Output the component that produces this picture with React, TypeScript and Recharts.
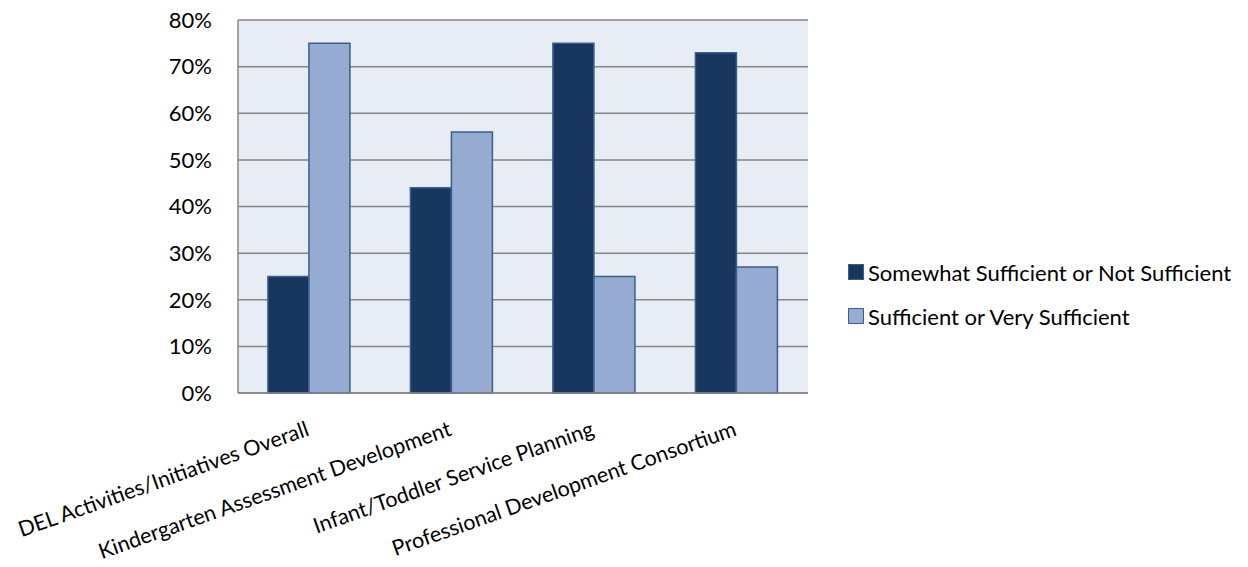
import { BarChart, Bar, XAxis, YAxis, CartesianGrid } from 'recharts';

const categories = [
  'DEL Activities/Initiatives Overall',
  'Kindergarten Assessment Development',
  'Infant/Toddler Service Planning',
  'Professional Development Consortium',
];
const notSufficient = [25, 44, 75, 73];
const sufficient = [75, 56, 25, 27];
const yTicks = [0, 10, 20, 30, 40, 50, 60, 70, 80];
const seriesNames = ['Somewhat Sufficient or Not Sufficient', 'Sufficient or Very Sufficient'];

const data = categories.map((name, i) => ({
  name,
  notSufficient: notSufficient[i],
  sufficient: sufficient[i],
}));

const FONT = 'Lato, "Open Sans", sans-serif';
const COLORS = {
  dark: '#17375E',
  light: '#95ABD2',
  barStroke: '#3A5F8F',
  plot: '#E8ECF4',
  grid: '#868686',
};

const XTick = ({ x = 0, y = 0, payload }: { x?: number; y?: number; payload?: { value: string } }) => (
  <g transform={`translate(${x + 1}, ${y + 42}) rotate(-19.5)`}>
    <text x={0} y={0} textAnchor="end" fill="#000" fontSize={21.5} fontFamily={FONT}>
      {payload?.value}
    </text>
  </g>
);

export default function App() {
  return (
    <div style={{ margin: -8, width: 1248, height: 567, background: '#fff', position: 'relative' }}>
      <BarChart
        width={1248}
        height={567}
        data={data}
        margin={{ top: 20, right: 440, left: 0, bottom: 0 }}
        barCategoryGap="21%"
        barGap={0}
      >
        <CartesianGrid vertical={false} stroke={COLORS.grid} strokeWidth={1.5} fill={COLORS.plot} />
        <XAxis
          dataKey="name"
          tick={<XTick />}
          tickLine={false}
          axisLine={{ stroke: COLORS.grid, strokeWidth: 1.5 }}
          interval={0}
          tickSize={0}
          tickMargin={0}
          height={174}
        />
        <YAxis
          domain={[0, 80]}
          ticks={yTicks}
          interval={0}
          tickFormatter={(v: number) => `${v}%`}
          tick={{ fontSize: 22, fontFamily: FONT, fill: '#000' }}
          tickLine={false}
          tickSize={0}
          tickMargin={26}
          axisLine={{ stroke: COLORS.grid, strokeWidth: 1.5 }}
          width={238}
        />
        <YAxis
          yAxisId="right"
          orientation="right"
          tick={false}
          tickLine={false}
          axisLine={{ stroke: COLORS.grid, strokeWidth: 1.5 }}
          width={0}
        />
        <Bar
          dataKey="notSufficient"
          name={seriesNames[0]}
          fill={COLORS.dark}
          stroke={COLORS.barStroke}
          strokeWidth={1.5}
          isAnimationActive={false}
        />
        <Bar
          dataKey="sufficient"
          name={seriesNames[1]}
          fill={COLORS.light}
          stroke={COLORS.barStroke}
          strokeWidth={1.5}
          isAnimationActive={false}
        />
      </BarChart>

      {/* legend, right of the plot */}
      <div
        style={{
          position: 'absolute',
          left: 848,
          top: 250,
          fontFamily: FONT,
          fontSize: 22,
          color: '#000',
        }}
      >
        {seriesNames.map((label, i) => (
          <div key={label} style={{ display: 'flex', alignItems: 'center', height: 44 }}>
            <span
              style={{
                display: 'inline-block',
                width: 14,
                height: 14,
                background: i === 0 ? COLORS.dark : COLORS.light,
                border: `1px solid ${COLORS.barStroke}`,
                marginRight: 4,
              }}
            />
            {label}
          </div>
        ))}
      </div>
    </div>
  );
}
